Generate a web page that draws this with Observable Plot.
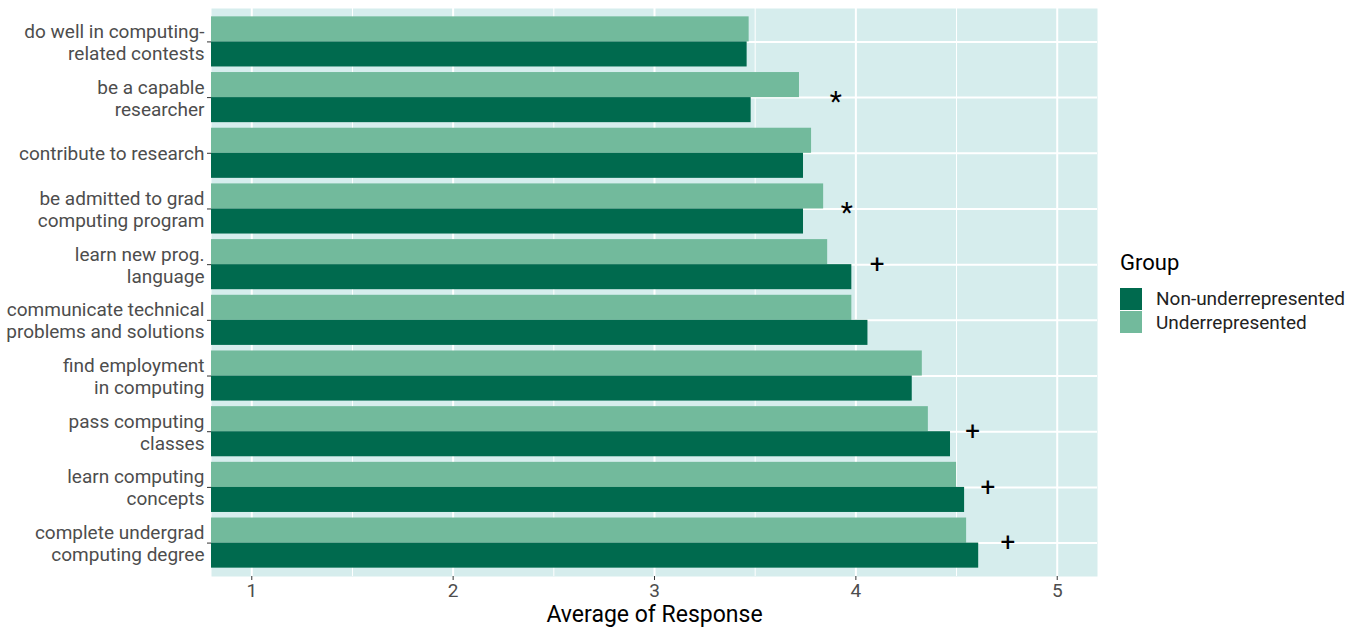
<!DOCTYPE html>
<html>
<head>
<meta charset="utf-8">
<script src="https://cdn.jsdelivr.net/npm/d3@7"></script>
<script src="https://cdn.jsdelivr.net/npm/@observablehq/plot@0.6"></script>
<style>
  html, body { margin: 0; padding: 0; background: #fff; }
  #wrap { position: relative; width: 1359px; height: 628px; font-family: Roboto, sans-serif; }
  #legend { position: absolute; left: 1120px; top: 250px; color: #000; }
  #legend .title { font-size: 22px; margin-bottom: 12px; }
  #legend .item { display: flex; align-items: center; height: 23.5px; font-size: 19px; color: #222; }
  #legend .sw { width: 22px; height: 22px; margin-right: 14px; }
</style>
</head>
<body>
<div id="wrap"><div id="chart"></div><div id="legend"></div></div>
<script>
const categories = [
  "do well in computing-\nrelated contests",
  "be a capable\nresearcher",
  "contribute to research",
  "be admitted to grad\ncomputing program",
  "learn new prog.\nlanguage",
  "communicate technical\nproblems and solutions",
  "find employment\nin computing",
  "pass computing\nclasses",
  "learn computing\nconcepts",
  "complete undergrad\ncomputing degree"
];
const groups = ["Non-underrepresented", "Underrepresented"];
const nonUnderValues = [3.46, 3.48, 3.74, 3.74, 3.98, 4.06, 4.28, 4.47, 4.54, 4.61];
const underValues    = [3.47, 3.72, 3.78, 3.84, 3.86, 3.98, 4.33, 4.36, 4.50, 4.55];
const markerLabels = ["", "*", "", "*", "+", "", "", "+", "+", "+"];
const markerX      = [null, 3.90, null, 3.955, 4.105, null, null, 4.58, 4.655, 4.755];
const xTicks = [1, 2, 3, 4, 5];
const xMinorTicks = [1.5, 2.5, 3.5, 4.5];
const colors = ["#006a4e", "#72ba9c"];

const rows = [];
categories.forEach((c, i) => {
  rows.push({category: c, group: groups[0], value: nonUnderValues[i]});
  rows.push({category: c, group: groups[1], value: underValues[i]});
});
const markers = categories.map((c, i) => ({category: c, label: markerLabels[i], x: markerX[i]}))
  .filter(d => d.label);

const chart = Plot.plot({
  width: 1359,
  height: 628,
  marginLeft: 211,
  marginRight: 262,
  marginTop: 8,
  marginBottom: 52,
  style: {fontFamily: "Roboto, sans-serif", background: "#fff"},
  x: {domain: [0.8, 5.2], ticks: xTicks, label: null},
  y: {domain: categories, paddingInner: 0.1, paddingOuter: 0.15, round: false, label: null},
  color: {domain: groups, range: colors},
  marks: [
    Plot.frame({fill: "#d6eded", stroke: null}),
    Plot.gridX(xMinorTicks, {stroke: "#fff", strokeOpacity: 1, strokeWidth: 1}),
    Plot.gridX(xTicks, {stroke: "#fff", strokeOpacity: 1, strokeWidth: 2}),
    Plot.gridY(categories, {stroke: "#fff", strokeOpacity: 1, strokeWidth: 2}),
    Plot.barX(rows.filter(d => d.group === groups[1]), {x1: 0, x2: "value", y: "category", fill: "group", insetBottom: 25.05, clip: true}),
    Plot.barX(rows.filter(d => d.group === groups[0]), {x1: 0, x2: "value", y: "category", fill: "group", insetTop: 25.05, clip: true}),
    Plot.text(markers.filter(d => d.label === "*"), {x: "x", y: "category", text: "label", fontSize: 28, dy: 4, fill: "#000"}),
    Plot.text(markers.filter(d => d.label === "+"), {x: "x", y: "category", text: "label", fontSize: 26, fill: "#000"}),
    Plot.axisX(xTicks, {tickSize: 4, stroke: "#333", fill: "#4d4d4d", fontSize: 19, tickPadding: 3, tickFormat: d => String(d), label: null}),
    Plot.axisY(categories, {tickSize: 4, stroke: "#333", fill: "#4d4d4d", fontSize: 19, lineHeight: 1.15, tickPadding: 3, label: null}),
    Plot.text(["Average of Response"], {frameAnchor: "bottom", dy: 38, fontSize: 23, fill: "#000", lineAnchor: "middle"})
  ]
});
document.getElementById("chart").appendChild(chart);

const legend = document.getElementById("legend");
legend.innerHTML = `<div class="title">Group</div>` + groups.map((g, i) =>
  `<div class="item"><div class="sw" style="background:${colors[i]}"></div>${g}</div>`).join("");
</script>
</body>
</html>
